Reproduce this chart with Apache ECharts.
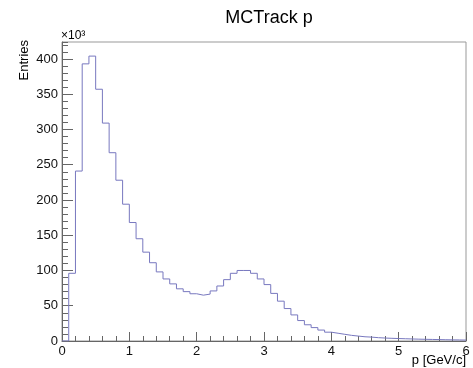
<!DOCTYPE html>
<html>
<head>
<meta charset="utf-8">
<script src="https://cdn.jsdelivr.net/npm/echarts@6/dist/echarts.min.js"></script>
<style>
html,body{margin:0;padding:0;background:#fff;}
#c{width:473px;height:368px;}
</style>
</head>
<body>
<div id="c"></div>
<script>
// Histogram data (entries in units of 10^3), 60 bins from 0 to 6 GeV/c
const chartTitle = 'MCTrack p';
const xTitle = 'p [GeV/c]';
const yTitle = 'Entries';
const yScaleNote = '×10³';
const binLow = 0;
const binWidth = 0.1;
const counts = [
  0, 96, 241, 393, 404, 357, 309, 267, 228, 194,
  168, 145, 126, 111, 98, 88, 81, 74, 70, 67,
  65, 66.5, 71, 78, 87, 96, 100, 100, 96, 88,
  80, 67.5, 56.5, 46, 37, 29, 23, 19, 15.5, 12.5,
  11, 9.5, 8, 7, 6, 5.5, 4.7, 4.2, 3.8, 3.5,
  3.2, 2.9, 2.6, 2.4, 2.2, 2.0, 1.8, 1.6, 1.5, 1.3
];
const xMin = 0, xMax = 6, xStep = 1;
const yMin = 0, yMax = 424, yStep = 50, yMinorStep = 10;

// step outline points: [left edge, count], plus closing right edge
const stepData = counts.map((v, i) => [+(binLow + i * binWidth).toFixed(4), v]);
stepData.push([+(binLow + counts.length * binWidth).toFixed(4), counts[counts.length - 1]]);

const FONT = '"Liberation Sans", Arial, Helvetica, sans-serif';
const axisCol = '#666';

const chart = echarts.init(document.getElementById('c'), null, {renderer: 'canvas'});
chart.setOption({
  animation: false,
  backgroundColor: '#fff',
  title: {
    text: chartTitle,
    left: 264,
    top: 4,
    textAlign: 'center',
    textStyle: {fontFamily: FONT, fontSize: 18, fontWeight: 'normal', color: '#000'}
  },
  grid: {
    left: 62, right: 7, top: 42, bottom: 27,
    show: true, borderColor: '#999', borderWidth: 1, backgroundColor: 'transparent',
    containLabel: false, outerBoundsMode: 'none'
  },
  xAxis: {
    type: 'value', min: xMin, max: xMax, interval: xStep,
    axisLine: {show: true, lineStyle: {color: axisCol, width: 1}},
    axisTick: {show: true, inside: true, length: 9, lineStyle: {color: axisCol}},
    minorTick: {show: true, splitNumber: 5, length: 5, lineStyle: {color: axisCol}},
    splitLine: {show: false},
    minorSplitLine: {show: false},
    axisLabel: {fontFamily: FONT, fontSize: 13, color: '#111', margin: 4}
  },
  yAxis: [
    {
      type: 'value', min: yMin, max: yMax, interval: yStep, position: 'left',
      axisLine: {show: true, lineStyle: {color: axisCol, width: 1}},
      axisTick: {show: true, inside: true, length: 11, lineStyle: {color: axisCol}},
      splitLine: {show: false},
      axisLabel: {fontFamily: FONT, fontSize: 13, color: '#111', margin: 4, showMaxLabel: false}
    },
    {
      type: 'value', min: yMin, max: yMax, interval: yMinorStep, position: 'left',
      axisLine: {show: false},
      axisTick: {show: true, inside: true, length: 6, lineStyle: {color: axisCol}},
      splitLine: {show: false},
      axisLabel: {show: false}
    }
  ],
  graphic: [
    {
      type: 'text', x: 24, y: 40, rotation: Math.PI / 2,
      style: {text: yTitle, font: '13px ' + FONT, fill: '#000', textAlign: 'right', textVerticalAlign: 'middle'}
    },
    {
      type: 'text', x: 466, y: 354,
      style: {text: xTitle, font: '13px ' + FONT, fill: '#000', textAlign: 'right', textVerticalAlign: 'top'}
    },
    {
      type: 'text', x: 61, y: 42,
      style: {text: yScaleNote, font: '12px ' + FONT, fill: '#000', textAlign: 'left', textVerticalAlign: 'bottom'}
    }
  ],
  series: [{
    type: 'line',
    step: 'end',
    data: stepData,
    xAxisIndex: 0,
    yAxisIndex: 0,
    showSymbol: false,
    symbol: 'none',
    lineStyle: {color: '#7878bf', width: 1},
    silent: true
  }]
});
</script>
</body>
</html>
